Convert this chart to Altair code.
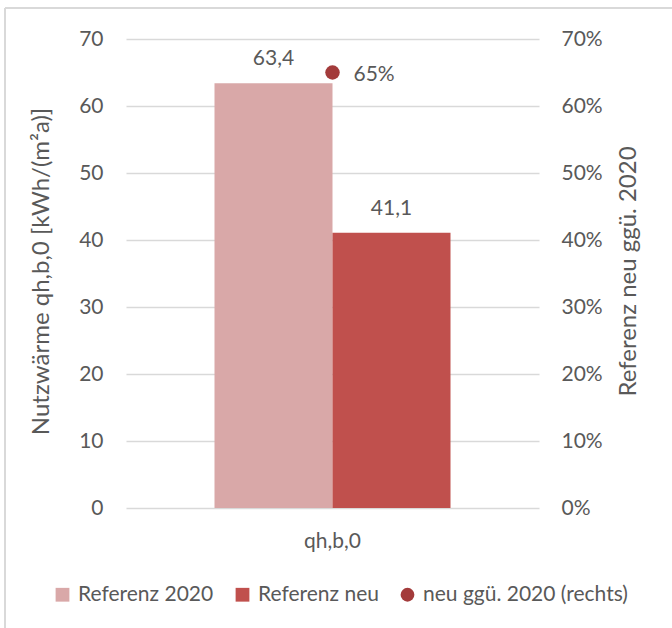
import altair as alt
import pandas as pd

# Heating demand per reference building variant
categories = ["qh,b,0"]
series = ["Referenz 2020", "Referenz neu"]
values = [63.4, 41.1]

# Ratio new vs. 2020 (right axis)
ratio_series = "neu ggü. 2020 (rechts)"
ratio_values = [0.65]

legend_order = series + [ratio_series]
colors = ["#d9a8a8", "#c0504d", "#a33b3b"]
shapes = ["square", "square", "circle"]

FONT = "Lato"
GRAY = "#595959"
FS = 21
TITLE_FS = 24

bars_df = pd.DataFrame({
    "cat": categories * len(series),
    "series": series,
    "value": values,
})
bars_df["label"] = [f"{v:.1f}".replace(".", ",") for v in values]

ratio_df = pd.DataFrame({
    "cat": categories,
    "series": [ratio_series],
    "ratio": ratio_values,
})
ratio_df["label"] = [f"{v:.0%}" for v in ratio_values]

legend = alt.Legend(
    orient="none",
    direction="horizontal",
    legendX=-74,
    legendY=545,
    symbolSize=190,
    symbolStrokeWidth=0,
    symbolOpacity=1,
    labelOffset=5,
    columnPadding=18,
    labelLimit=400,
    labelFont=FONT,
    labelFontSize=FS,
    labelColor=GRAY,
)

x_enc = alt.X(
    "cat:N",
    title=None,
    scale=alt.Scale(paddingInner=0, paddingOuter=0.375),
    axis=alt.Axis(labelAngle=0, labelPadding=22, grid=False),
)
color_enc = alt.Color(
    "series:N",
    scale=alt.Scale(domain=legend_order, range=colors),
    title=None,
    legend=legend,
)
shape_enc = alt.Shape(
    "series:N",
    scale=alt.Scale(domain=legend_order, range=shapes),
    title=None,
    legend=legend,
)

y_left = alt.Y(
    "value:Q",
    scale=alt.Scale(domain=[0, 70]),
    axis=alt.Axis(
        values=list(range(0, 71, 10)),
        title="Nutzwärme qh,b,0 [kWh/(m²a)]",
        labelPadding=23,
        grid=True,
        gridColor="#d9d9d9",
        gridWidth=1.6,
        titleAngle=270,
        titleX=-85,
        titleY=232,
        titleBaseline="middle",
        titleAlign="center",
    ),
)

bars = alt.Chart(bars_df).mark_bar().encode(
    x=x_enc,
    xOffset=alt.XOffset("series:N", scale=alt.Scale(domain=series, paddingInner=0, paddingOuter=0)),
    y=y_left,
    color=color_enc,
)
bar_labels = alt.Chart(bars_df).mark_text(
    baseline="alphabetic", dy=-18, font=FONT, fontSize=FS, color=GRAY
).encode(
    x=alt.X("cat:N"),
    xOffset=alt.XOffset("series:N"),
    y=alt.Y("value:Q"),
    text="label:N",
)
left = alt.layer(bars, bar_labels)

y_right = alt.Y(
    "ratio:Q",
    scale=alt.Scale(domain=[0, 0.7]),
    axis=alt.Axis(
        orient="right",
        values=[i / 10 for i in range(8)],
        format=".0%",
        title="Referenz neu ggü. 2020",
        labelPadding=22,
        grid=False,
        titleAngle=270,
        titleX=89,
        titleY=232,
        titleBaseline="middle",
        titleAlign="center",
    ),
)
points = alt.Chart(ratio_df).mark_point(filled=True, size=210, opacity=1).encode(
    x=alt.X("cat:N"),
    y=y_right,
    color=color_enc,
    shape=shape_enc,
)
point_labels = alt.Chart(ratio_df).mark_text(
    align="left", baseline="middle", dx=21, dy=2, font=FONT, fontSize=FS, color=GRAY
).encode(
    x=alt.X("cat:N"),
    y=alt.Y("ratio:Q"),
    text="label:N",
)
right = alt.layer(points, point_labels)

# light frame along the top and left edge of the chart area
frame_top = alt.Chart(pd.DataFrame({"k": [0]})).mark_rule(color="#d9d9d9", strokeWidth=2).encode(
    x=alt.value(-121), x2=alt.value(560), y=alt.value(-31)
)
frame_left = alt.Chart(pd.DataFrame({"k": [0]})).mark_rule(color="#d9d9d9", strokeWidth=2).encode(
    x=alt.value(-121), y=alt.value(-31), y2=alt.value(600)
)

chart = (
    alt.layer(left, right, frame_top, frame_left)
    .resolve_scale(y="independent")
    .properties(
        width=413,
        height=469,
        padding={"left": 126, "top": 39, "right": 133, "bottom": 120},
        autosize=alt.AutoSizeParams(type="none"),
        background="white",
    )
    .configure_view(stroke=None)
    .configure_axis(
        domain=False,
        ticks=False,
        labelFont=FONT,
        labelFontSize=FS,
        labelColor=GRAY,
        titleFont=FONT,
        titleFontSize=TITLE_FS,
        titleColor=GRAY,
        titleFontWeight="normal",
    )
)

chart.save("out.html", embed_options={"renderer": "svg", "actions": False})
